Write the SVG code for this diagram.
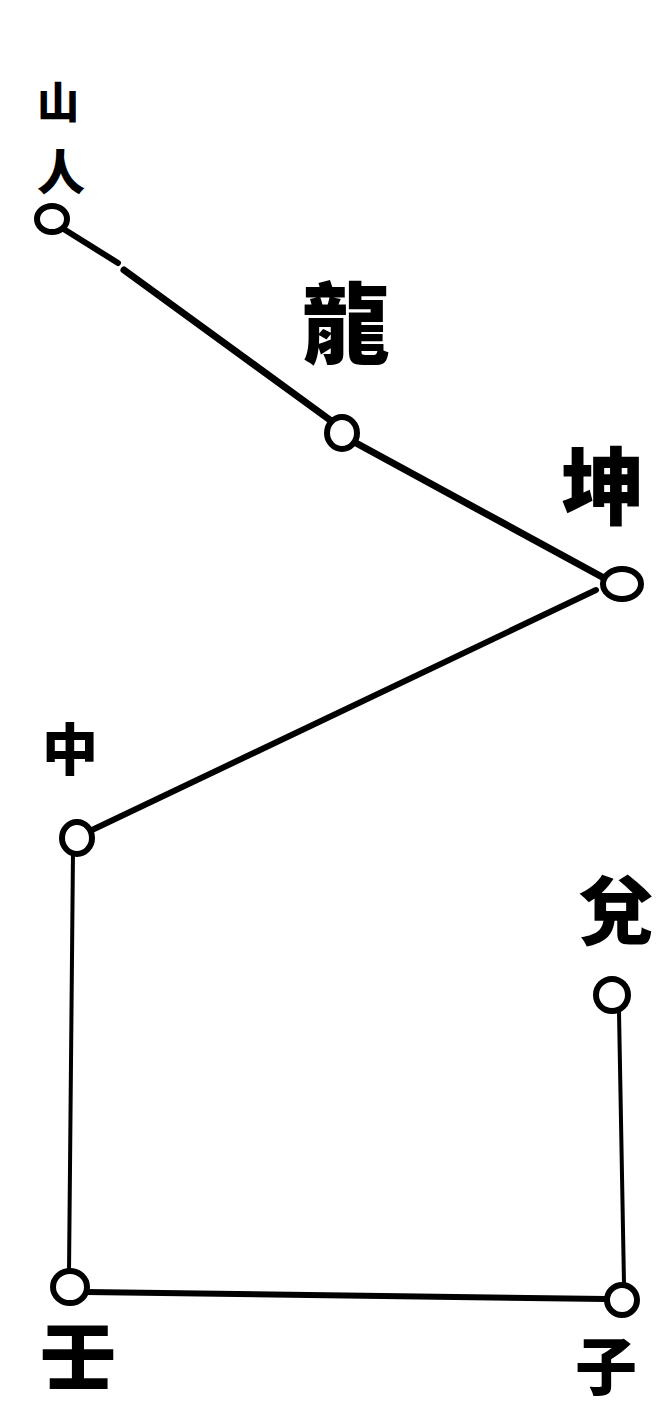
<svg xmlns="http://www.w3.org/2000/svg" width="663" height="1406" viewBox="0 0 663 1406">
<style>
.c{fill:#fff;stroke:#000;stroke-width:6}
.l{fill:none;stroke:#000;stroke-linecap:round}
.t{font-family:"Noto Sans CJK TC","Noto Sans CJK SC",sans-serif;font-weight:900;fill:#000;text-anchor:middle}
</style>
<rect width="663" height="1406" fill="#fff"/>
<g id="connectors">
<line class="l" x1="62" y1="228" x2="118" y2="263" stroke-width="6"/>
<line class="l" x1="124" y1="270" x2="330" y2="420" stroke-width="7"/>
<line class="l" x1="356" y1="443" x2="604" y2="578" stroke-width="7"/>
<line class="l" x1="596" y1="590" x2="92" y2="830" stroke-width="6"/>
<line class="l" x1="73" y1="852" x2="69" y2="1272" stroke-width="4"/>
<line class="l" x1="86" y1="1292" x2="606" y2="1299" stroke-width="6"/>
<line class="l" x1="624" y1="1284" x2="619" y2="1012" stroke-width="4"/>
</g>
<g id="n-shanren">
<text class="t" x="58" y="118" font-size="42">山</text>
<text class="t" x="61" y="190" font-size="48">人</text>
<ellipse class="c" cx="52" cy="219" rx="15" ry="13"/>
</g>
<g id="n-long">
<text class="t" x="346" y="356" font-size="88">龍</text>
<ellipse class="c" cx="342" cy="433" rx="15" ry="16"/>
</g>
<g id="n-kun">
<text class="t" x="603" y="518" font-size="84">坤</text>
<ellipse class="c" cx="622" cy="584" rx="19" ry="15"/>
</g>
<g id="n-zhong">
<text class="t" x="70" y="770" font-size="56">中</text>
<ellipse class="c" cx="77" cy="838" rx="15" ry="16"/>
</g>
<g id="n-dui">
<text class="t" x="616" y="938" font-size="74">兌</text>
<ellipse class="c" cx="612" cy="995" rx="16" ry="16"/>
</g>
<g id="n-ren">
<ellipse class="c" cx="70" cy="1287" rx="17" ry="16"/>
<text class="t" x="78" y="1384" font-size="76">壬</text>
</g>
<g id="n-zi">
<ellipse class="c" cx="622" cy="1300" rx="15" ry="15"/>
<text class="t" x="606" y="1390" font-size="62">子</text>
</g>
</svg>
